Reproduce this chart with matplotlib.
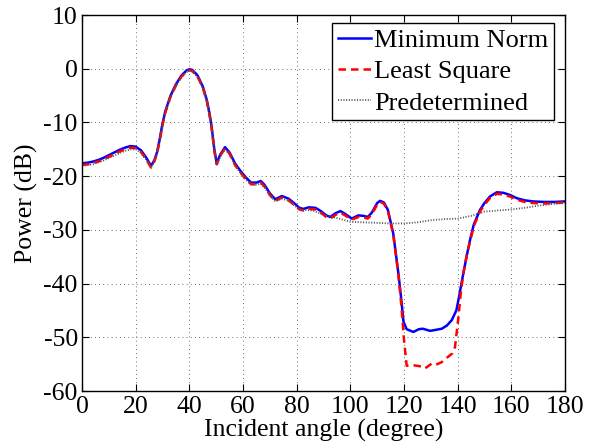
import matplotlib.pyplot as plt

plt.rcParams["font.family"] = ["Liberation Serif", "DejaVu Serif"]
plt.rcParams["axes.unicode_minus"] = False

# Minimum Norm
ang_mn = [0, 2, 4, 6, 8, 10, 12, 14, 16, 18, 20, 22, 24, 25.7, 27, 28, 29, 30, 31,
          33, 35, 37, 39, 40, 41, 43, 45, 46.5, 47.5, 48.3, 49.3, 50.2, 51.5, 53.3,
          55, 57, 59, 61, 63, 65, 66.6, 68, 70, 72, 74.5, 77, 79, 81, 82.5, 84.5,
          87, 89, 91, 92.5, 94.5, 96.3, 98, 100.5, 103, 105, 106.5, 108, 110, 111.1,
          112.5, 114, 116, 117.9, 119, 119.8, 121, 123.5, 125.5, 127, 129.7, 132,
          134.1, 136, 137.8, 139.5, 140.5, 142.1, 143.5, 144.6, 146, 148.3, 150,
          152, 154.6, 157, 159.5, 162, 165, 168, 172, 176, 180]
pow_mn = [-17.6, -17.5, -17.3, -17.0, -16.6, -16.1, -15.6, -15.1, -14.7, -14.4,
          -14.5, -15.2, -16.6, -18.1, -17.0, -15.5, -13.0, -10.2, -8.0, -5.0, -2.9,
          -1.3, -0.3, -0.1, -0.2, -1.2, -3.3, -5.8, -8.3, -10.8, -15.0, -17.6,
          -16.0, -14.6, -15.6, -17.6, -19.0, -20.2, -21.2, -21.2, -20.9, -21.6,
          -23.2, -24.3, -23.7, -24.2, -25.0, -25.9, -26.1, -25.8, -25.9, -26.5,
          -27.3, -27.6, -26.9, -26.5, -27.0, -27.9, -27.3, -27.4, -27.6, -26.8,
          -25.0, -24.6, -24.9, -26.3, -30.7, -38.1, -43.0, -47.1, -48.5, -49.0,
          -48.5, -48.4, -48.8, -48.6, -48.4, -47.8, -46.8, -45.0, -42.5, -38.1,
          -34.5, -31.9, -29.0, -26.3, -25.0, -23.8, -23.0, -23.1, -23.5, -24.1,
          -24.5, -24.7, -24.8, -24.8, -24.7]

# Least Square
ang_ls = [0, 2, 4, 6, 8, 10, 12, 14, 16, 18, 20, 22, 24, 25.7, 27, 28, 29, 30, 31,
          33, 35, 37, 39, 40, 41, 43, 45, 46.5, 47.5, 48.3, 49.3, 50.2, 51.5, 53.3,
          55, 57, 59, 61, 63, 65, 66.6, 68, 70, 72, 74.5, 77, 79, 81, 82.5, 84.5,
          87, 89, 91, 92.5, 94.5, 96.3, 98, 100.5, 103, 105, 106.5, 108, 110, 111.1,
          112.5, 114, 116, 117.9, 119, 120, 121, 123.5, 126, 127.8, 130.3, 132,
          134.1, 136.5, 138, 139, 140.3, 141.3, 142.5, 143.5, 144.6, 146, 148.3,
          150, 152, 154.6, 157, 159.5, 162, 165, 168, 172, 176, 180]
pow_ls = [-17.9, -17.8, -17.6, -17.3, -16.9, -16.4, -15.9, -15.4, -15.0, -14.7,
          -14.8, -15.5, -16.9, -18.4, -17.2, -15.7, -13.2, -10.4, -8.2, -5.2, -3.1,
          -1.5, -0.5, -0.3, -0.4, -1.4, -3.5, -6.0, -8.5, -11.0, -15.2, -17.8,
          -16.2, -14.8, -15.8, -17.9, -19.3, -20.5, -21.5, -21.5, -21.2, -21.9,
          -23.5, -24.6, -24.0, -24.5, -25.3, -26.2, -26.4, -26.1, -26.2, -26.8,
          -27.6, -27.9, -27.2, -26.8, -27.3, -28.1, -27.6, -27.7, -27.9, -27.1,
          -25.3, -24.8, -25.1, -26.5, -30.9, -38.3, -44.0, -50.5, -55.3, -55.2,
          -55.4, -55.8, -54.9, -55.1, -54.6, -53.6, -53.0, -51.8, -46.2, -41.0,
          -37.0, -34.5, -32.2, -29.3, -26.6, -25.3, -24.1, -23.3, -23.4, -23.8,
          -24.4, -24.8, -25.0, -25.1, -25.0, -24.9]

# Predetermined
ang_pd = [0, 4, 8, 12, 16, 18, 20, 22, 24, 25.7, 27, 29, 31, 33, 35, 37, 39, 40,
          41, 43, 45, 46.5, 48.3, 49.3, 50.2, 51.5, 53.3, 55, 57, 59, 61, 63, 65,
          66.6, 68, 70, 72, 74.5, 77, 79, 81, 83, 86, 90, 95, 100, 105, 110, 115,
          120, 125, 130, 135, 140, 145, 150, 155, 160, 165, 170, 175, 180]
pow_pd = [-18.1, -17.8, -17.1, -16.2, -15.3, -15.0, -15.0, -15.7, -17.0, -18.4,
          -17.3, -13.4, -8.3, -5.3, -3.2, -1.6, -0.6, -0.4, -0.5, -1.5, -3.6, -6.1,
          -11.1, -15.3, -17.9, -16.4, -15.0, -16.0, -18.0, -19.4, -20.6, -21.6,
          -21.6, -21.4, -22.1, -23.6, -24.7, -24.2, -24.6, -25.4, -26.2, -26.3,
          -26.4, -27.2, -27.8, -28.5, -28.6, -28.7, -28.8, -28.8, -28.6, -28.2,
          -28.0, -27.9, -27.4, -26.6, -26.4, -26.2, -25.9, -25.5, -25.2, -25.0]

x_ticks = [0, 20, 40, 60, 80, 100, 120, 140, 160, 180]
y_ticks = [-60, -50, -40, -30, -20, -10, 0, 10]

fig = plt.figure(figsize=(5.93, 4.48), dpi=100)
ax = fig.add_axes([0.1383, 0.1272, 0.8145, 0.8393])

ax.plot(ang_mn, pow_mn, color="blue", lw=1.8, label="Minimum Norm")
ax.plot(ang_ls, pow_ls, color="red", lw=1.8, ls=(0, (3, 2)), label="Least Square")
ax.plot(ang_pd, pow_pd, color="#555555", lw=1.3, ls=(0, (0.6, 0.9)), label="Predetermined")

ax.set_xlim(0, 180)
ax.set_ylim(-60, 10)
ax.set_xticks(x_ticks)
ax.set_yticks(y_ticks)
ax.tick_params(direction="in", top=True, right=True, labelsize=18.5, length=5)
ax.tick_params(axis="x", pad=3.5)
ax.tick_params(axis="y", pad=3)
ax.grid(True, color="#444444", ls=(0, (1, 4)), lw=0.6)
for s in ax.spines.values():
    s.set_linewidth(1.0)

ax.set_xlabel("Incident angle (degree)", fontsize=18.5, labelpad=0.5)
ax.set_ylabel("Power (dB)", fontsize=18.5, labelpad=4)

leg = ax.legend(loc="upper right", bbox_to_anchor=(554 / 593, 1 - 23 / 448),
                bbox_transform=fig.transFigure, borderaxespad=0,
                fontsize=19, handlelength=1.25, handletextpad=0.15,
                labelspacing=0.3, borderpad=0.2, fancybox=False, framealpha=1,
                edgecolor="black")
leg.get_frame().set_linewidth(1.0)

fig.savefig("out.png", dpi=100)
